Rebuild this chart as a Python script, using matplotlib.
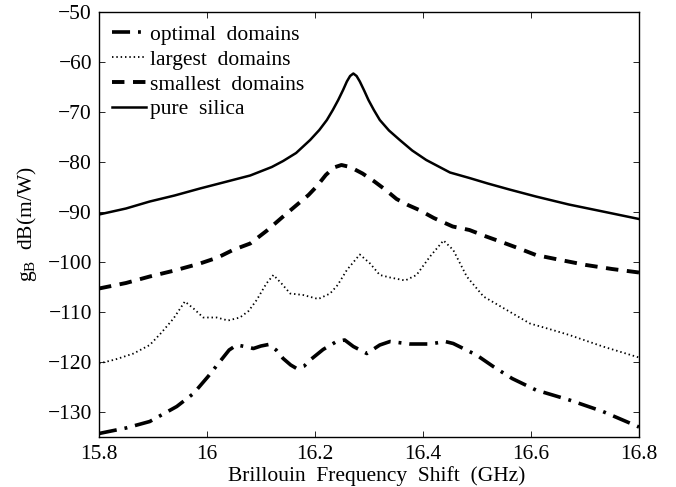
import numpy as np
import matplotlib.pyplot as plt

plt.rcParams['font.family'] = ['Liberation Serif', 'DejaVu Serif']
plt.rcParams['mathtext.fontset'] = 'custom'
plt.rcParams['mathtext.rm'] = 'Liberation Serif'
plt.rcParams['mathtext.it'] = 'Liberation Serif:italic'

# pure silica
f_silica = [15.80, 15.85, 15.894, 15.94, 15.987, 16.03, 16.08, 16.12, 16.141, 16.165,
            16.191, 16.208, 16.222, 16.233, 16.243, 16.252, 16.259, 16.265, 16.271,
            16.277, 16.283, 16.291, 16.299, 16.309, 16.32, 16.337, 16.357, 16.38,
            16.406, 16.45, 16.486, 16.52, 16.56, 16.609, 16.67, 16.733, 16.80]
g_silica = [-90.5, -89.3, -87.9, -86.7, -85.3, -84.1, -82.7, -81.0, -79.8, -78.2,
            -75.6, -73.6, -71.6, -69.6, -67.6, -65.6, -63.9, -62.8, -62.3,
            -62.8, -63.9, -65.7, -67.6, -69.6, -71.6, -73.7, -75.6, -77.7,
            -79.6, -82.1, -83.2, -84.3, -85.5, -86.9, -88.5, -89.9, -91.4]

# smallest domains
f_small = [15.80, 15.85, 15.894, 15.94, 15.987, 16.02, 16.048, 16.08, 16.11, 16.141,
           16.165, 16.188, 16.203, 16.22, 16.235, 16.249, 16.265, 16.288, 16.31,
           16.331, 16.351, 16.372, 16.393, 16.42, 16.455, 16.486, 16.517, 16.548,
           16.578, 16.609, 16.65, 16.702, 16.75, 16.80]
g_small = [-105.3, -104.2, -102.9, -101.7, -100.3, -99.1, -97.6, -96.3, -93.8, -90.9,
           -88.7, -86.6, -84.9, -82.6, -81.1, -80.6, -81.0, -82.3, -83.9,
           -85.6, -87.4, -88.6, -89.6, -91.2, -92.9, -93.6, -94.9, -96.1,
           -97.3, -98.6, -99.5, -100.6, -101.4, -102.1]

# largest domains
f_large = [15.80, 15.83, 15.864, 15.894, 15.915, 15.938, 15.959, 15.975, 15.993,
           16.018, 16.039, 16.061, 16.077, 16.092, 16.11, 16.123, 16.138, 16.154,
           16.178, 16.206, 16.228, 16.242, 16.259, 16.283, 16.302, 16.32, 16.339,
           16.367, 16.388, 16.413, 16.438, 16.456, 16.481, 16.512, 16.555,
           16.598, 16.64, 16.671, 16.733, 16.80]
g_large = [-120.3, -119.5, -118.3, -116.6, -114.2, -111.3, -107.9, -109.3, -111.1,
           -111.1, -111.7, -111.1, -109.8, -107.6, -104.3, -102.6, -104.3, -106.3,
           -106.6, -107.4, -106.3, -104.6, -101.6, -98.5, -100.3, -102.6, -103.1,
           -103.7, -102.6, -98.9, -95.7, -97.6, -102.9, -106.9, -109.6,
           -112.3, -113.6, -114.6, -116.9, -119.1]

# optimal domains
f_opt = [15.80, 15.85, 15.894, 15.944, 15.975, 16.002, 16.024, 16.041, 16.055,
         16.07, 16.086, 16.1, 16.114, 16.128, 16.141, 16.155, 16.166, 16.18,
         16.191, 16.215, 16.24, 16.255, 16.271, 16.296, 16.32, 16.339, 16.376,
         16.413, 16.441, 16.456, 16.499, 16.53, 16.565, 16.609, 16.671,
         16.733, 16.80]
g_opt = [-134.3, -133.2, -131.9, -128.9, -126.3, -122.9, -119.9, -117.6, -116.6,
         -116.9, -117.3, -116.8, -116.5, -117.6, -119.3, -120.6, -121.3, -120.8,
         -119.6, -117.5, -115.9, -115.6, -116.9, -118.3, -116.6, -115.9, -116.4,
         -116.4, -115.9, -116.3, -118.6, -120.9, -123.3, -125.6, -127.6,
         -129.9, -133.0]

x_ticks = [15.8, 16.0, 16.2, 16.4, 16.6, 16.8]
x_labels = ['15.8', '16', '16.2', '16.4', '16.6', '16.8']
y_ticks = [-130, -120, -110, -100, -90, -80, -70, -60, -50]

fs = 15.5

fig = plt.figure(figsize=(6.76, 4.87), dpi=100)
ax = fig.add_axes([99 / 676, 1 - 437 / 487, 540 / 676, 425 / 487])

ax.plot(f_opt, g_opt, color='black', linewidth=2.6, linestyle=(0, (5, 2.2, 0.8, 2.2)),
        label='optimal  domains')
ax.plot(f_large, g_large, color='black', linewidth=1.3, linestyle=(0, (0.8, 1.6)),
        label='largest  domains')
ax.plot(f_small, g_small, color='black', linewidth=2.8, linestyle=(0, (3.2, 2.2)),
        label='smallest  domains')
ax.plot(f_silica, g_silica, color='black', linewidth=1.8, linestyle='-',
        label='pure  silica')

ax.set_xlim(15.8, 16.8)
ax.set_ylim(-135, -50)
ax.set_xticks(x_ticks)
ax.set_xticklabels(x_labels)
ax.set_yticks(y_ticks)
ax.set_yticklabels(['\u2212%d' % abs(v) for v in y_ticks])
ax.tick_params(direction='in', top=True, right=True, labelsize=fs, length=4,
               width=0.6, pad=5)
ax.tick_params(axis='x', pad=6)
for s in ax.spines.values():
    s.set_linewidth(1.0)

ax.set_xlabel('Brillouin  Frequency  Shift  (GHz)', fontsize=fs)
ax.xaxis.set_label_coords(0.514, -0.068, transform=ax.transAxes)
ax.xaxis.label.set_va('top')
ax.set_ylabel(r'g$_\mathrm{B}$  dB(m/W)', fontsize=fs, labelpad=6)

ax.legend(loc='upper left', frameon=False, fontsize=fs, handlelength=1.55,
          handletextpad=0.2, labelspacing=0.22, borderaxespad=0.1,
          bbox_to_anchor=(0.005, 0.995))

fig.savefig('out.png', dpi=100)
